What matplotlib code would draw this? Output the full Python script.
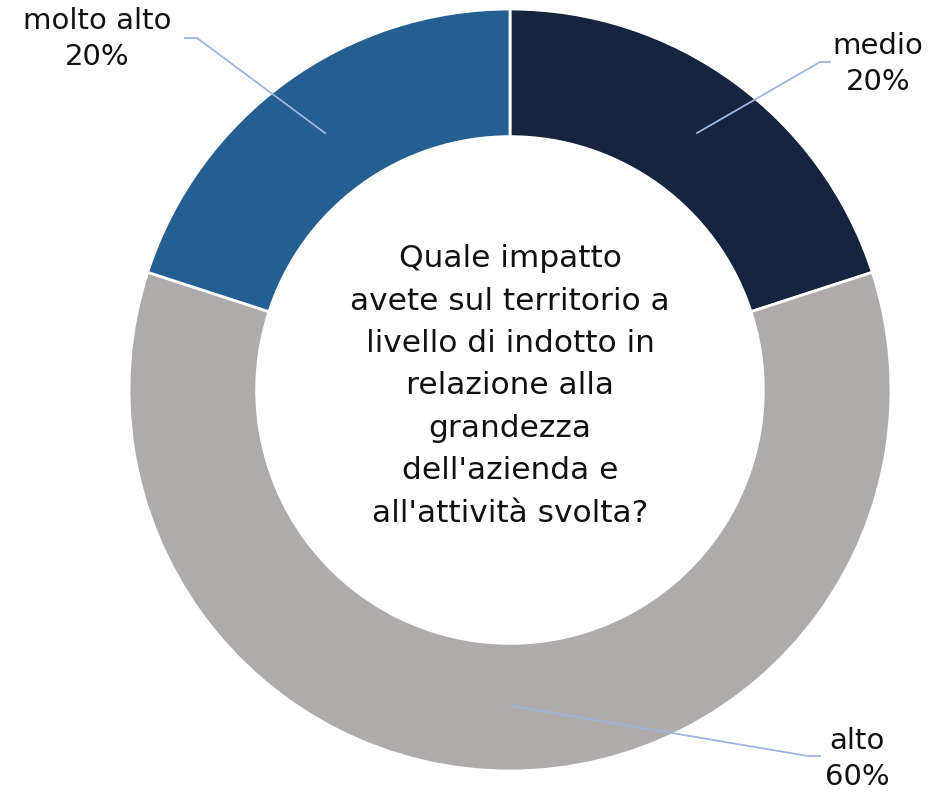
import matplotlib.pyplot as plt

# dati
categorie = ['medio', 'alto', 'molto alto']
valori = [20, 60, 20]
colori = ['#15243F', '#AEABAA', '#255F91']
titolo = "Quale impatto\navete sul territorio a\nlivello di indotto in\nrelazione alla\ngrandezza\ndell'azienda e\nall'attività svolta?"

W, H = 953, 794
fig = plt.figure(figsize=(W / 100, H / 100), dpi=100)
ax = fig.add_axes([0, 0, 1, 1])

cx, cy, r = 510, H - 390, 381
ax.pie(valori, colors=colori, startangle=90, counterclock=False,
       center=(cx, cy), radius=r, frame=True,
       wedgeprops=dict(width=r * 0.335, edgecolor='white', linewidth=2))
ax.set_xlim(0, W)
ax.set_ylim(0, H)
ax.set_aspect('equal')
ax.axis('off')

ax.text(cx, H - 386, titolo, ha='center', va='center', fontsize=22.5,
        linespacing=1.58, color='#111111')

# etichette con linee guida (pixel dell'immagine, y dall'alto)
etichette = [
    ('medio', 878, 64, [(697, 133), (820, 62), (830, 62)]),
    ('alto', 857, 759, [(512, 706), (808, 756), (820, 756)]),
    ('molto alto', 97, 39, [(325, 133), (197, 38), (185, 38)]),
]
for (nome, tx, ty, punti), v in zip(etichette, valori):
    xs = [p[0] for p in punti]
    ys = [H - p[1] for p in punti]
    ax.plot(xs, ys, color='#9BB5DE', linewidth=1.3)
    ax.text(tx, H - ty, f'{nome}\n{v}%', ha='center', va='center',
            fontsize=21, linespacing=1.36, color='#111111')

fig.savefig('out.png', dpi=100)
